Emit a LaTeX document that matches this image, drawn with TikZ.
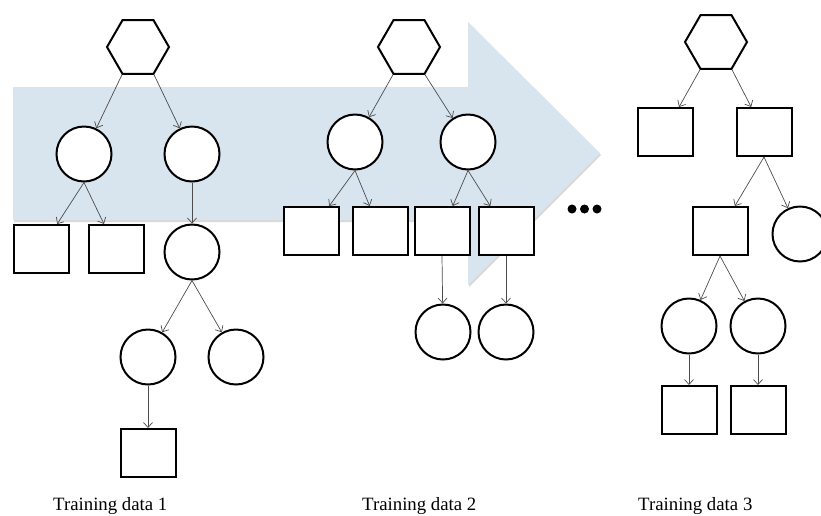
\documentclass[tikz,border=0pt]{standalone}
\usepackage{fontspec}
\setmainfont{Liberation Serif}
\usetikzlibrary{shapes.geometric,arrows.meta}
\definecolor{flowblue}{RGB}{216,228,238}
\tikzstyle{root}=[regular polygon,regular polygon sides=6,draw=black,line width=2pt,minimum size=62pt,inner sep=0pt,fill=white]
\tikzstyle{split}=[circle,draw=black,line width=2pt,minimum size=55pt,inner sep=0pt,fill=white]
\tikzstyle{leaf}=[rectangle,draw=black,line width=2pt,minimum width=55pt,minimum height=48pt,inner sep=0pt,fill=white]
\tikzstyle{link}=[-{Straight Barb[length=5pt,width=9pt]},draw=black!70,line width=0.7pt]
\tikzstyle{caption}=[anchor=base west,inner sep=0pt,font=\fontsize{18.8}{20}\selectfont]

\begin{document}
\begin{tikzpicture}[x=1pt,y=-1pt]
                    \useasboundingbox (0,0) rectangle (821,515);

                    % big arrow in the back
                    \fill [black!15] (14,89) -- (469,89) -- (469,24) -- (601,155) -- (469,287) -- (469,222) -- (14,222) -- cycle;
                    \fill [flowblue] (13,87) -- (468,87) -- (468,22) -- (600,153) -- (468,285) -- (468,220) -- (13,220) -- cycle;

                    % first tree
                    \node (root1) at (138,47) [root] {};
                    \node (a1) at (84,154) [split] {};
                    \node (b1) at (192,154) [split] {};
                    \node (l1a) at (41,249) [leaf] {};
                    \node (l1b) at (116,249) [leaf] {};
                    \node (c1) at (192,252) [split] {};
                    \node (d1) at (148,357) [split] {};
                    \node (e1) at (236,357) [split] {};
                    \node (l1c) at (148,453) [leaf] {};

                    \draw [link] (root1.-120) -- (a1);
                    \draw [link] (root1.-60) -- (b1);
                    \draw [link] (a1.south) -- (l1a);
                    \draw [link] (a1.south) -- (l1b);
                    \draw [link] (b1.south) -- (c1);
                    \draw [link] (c1.south) -- (d1);
                    \draw [link] (c1.south) -- (e1);
                    \draw [link] (d1.south) -- (l1c);

                    % second tree
                    \node (root2) at (409,47) [root] {};
                    \node (a2) at (355,142) [split] {};
                    \node (b2) at (468,142) [split] {};
                    \node (l2a) at (311,231) [leaf] {};
                    \node (l2b) at (380,231) [leaf] {};
                    \node (l2c) at (442,231) [leaf] {};
                    \node (l2d) at (506,231) [leaf] {};
                    \node (c2) at (443,332) [split] {};
                    \node (d2) at (506,332) [split] {};

                    \draw [link] (root2.-120) -- (a2);
                    \draw [link] (root2.-60) -- (b2);
                    \draw [link] (a2.south) -- (l2a);
                    \draw [link] (a2.south) -- (l2b);
                    \draw [link] (b2.south) -- (l2c);
                    \draw [link] (b2.south) -- (l2d);
                    \draw [link] (l2c.south) -- (c2);
                    \draw [link] (l2d.south) -- (d2);

                    % dots
                    \foreach \x in {572,584.5,597}
                        \fill (\x,209) circle (4.5pt);

                    % third tree
                    \node (root3) at (716,42) [root] {};
                    \node (l3a) at (665,132) [leaf] {};
                    \node (l3b) at (764,132) [leaf] {};
                    \node (l3c) at (720,231) [leaf] {};
                    \node (c3) at (800,234) [split] {};
                    \node (a3) at (689,326) [split] {};
                    \node (b3) at (758,326) [split] {};
                    \node (l3d) at (689,410) [leaf] {};
                    \node (l3e) at (758,410) [leaf] {};

                    \draw [link] (root3.-120) -- (l3a);
                    \draw [link] (root3.-60) -- (l3b);
                    \draw [link] (l3b.south) -- (l3c);
                    \draw [link] (l3b.south) -- (c3);
                    \draw [link] (l3c.south) -- (a3);
                    \draw [link] (l3c.south) -- (b3);
                    \draw [link] (a3.south) -- (l3d);
                    \draw [link] (b3.south) -- (l3e);

                    % captions
                    \node (cap1) at (53,510) [caption] {Training data 1};
                    \node (cap2) at (362,510) [caption] {Training data 2};
                    \node (cap3) at (638,510) [caption] {Training data 3};
                \end{tikzpicture}
\end{document}
